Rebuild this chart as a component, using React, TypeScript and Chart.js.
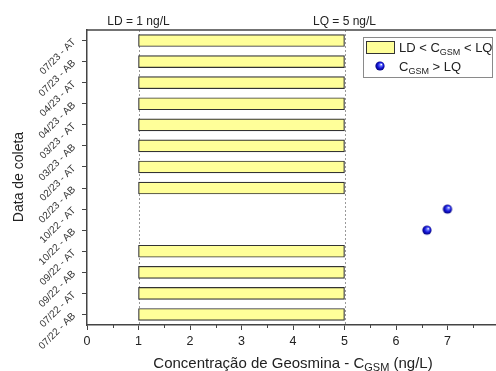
import React, { useEffect, useRef } from "react";
import { Chart, registerables } from "chart.js";

Chart.register(...registerables);

// Sampling campaigns, listed top to bottom as shown on the axis
const categories = [
  "07/23 - AT",
  "07/23 - AB",
  "04/23 - AT",
  "04/23 - AB",
  "03/23 - AT",
  "03/23 - AB",
  "02/23 - AT",
  "02/23 - AB",
  "10/22 - AT",
  "10/22 - AB",
  "09/22 - AT",
  "09/22 - AB",
  "07/22 - AT",
  "07/22 - AB",
];

// Detection and quantification limits (ng/L)
const LD = 1;
const LQ = 5;

// Samples between LD and LQ: range bar from LD to LQ (null = not in this class)
const rangeLow = [1, 1, 1, 1, 1, 1, 1, 1, null, null, 1, 1, 1, 1];
const rangeHigh = [5, 5, 5, 5, 5, 5, 5, 5, null, null, 5, 5, 5, 5];

// Samples quantified above LQ (ng/L)
const aboveLQ = [null, null, null, null, null, null, null, null, 7.0, 6.6, null, null, null, null];

const xTicks = [0, 1, 2, 3, 4, 5, 6, 7, 8];

const FONT = '"Liberation Sans", Arial, Helvetica, sans-serif';
const AXIS = "#444";
const TEXT = "#222";
const BAR_FILL = "#FFFF99";

function makeSphere(r: number): HTMLCanvasElement {
  const c = document.createElement("canvas");
  const s = Math.ceil(r * 2 + 2);
  c.width = s;
  c.height = s;
  const g = c.getContext("2d")!;
  const cx = s / 2;
  const cy = s / 2;
  const grad = g.createRadialGradient(cx + r * 0.3, cy - r * 0.35, r * 0.05, cx, cy, r);
  grad.addColorStop(0, "#ffffff");
  grad.addColorStop(0.22, "#6a78ff");
  grad.addColorStop(0.6, "#1515d8");
  grad.addColorStop(1, "#00007a");
  g.fillStyle = grad;
  g.beginPath();
  g.arc(cx, cy, r, 0, Math.PI * 2);
  g.fill();
  return c;
}

// Draws a run of [text, size, baseline offset] pieces, left to right
function drawRuns(
  ctx: CanvasRenderingContext2D,
  runs: [string, number, number][],
  x: number,
  y: number
) {
  let cx = x;
  for (const [t, size, dy] of runs) {
    ctx.font = `${size}px ${FONT}`;
    ctx.fillText(t, cx, y + dy);
    cx += ctx.measureText(t).width;
  }
}

function runsWidth(ctx: CanvasRenderingContext2D, runs: [string, number, number][]) {
  let w = 0;
  for (const [t, size] of runs) {
    ctx.font = `${size}px ${FONT}`;
    w += ctx.measureText(t).width;
  }
  return w;
}

export default function App() {
  const ref = useRef<HTMLCanvasElement | null>(null);

  useEffect(() => {
    if (!ref.current) return;
    const sphere = makeSphere(4.6);

    const decorations = {
      id: "decorations",
      beforeDatasetsDraw(chart: any) {
        const { ctx, chartArea } = chart;
        const xs = chart.scales.x;
        ctx.save();
        ctx.strokeStyle = "#9a9a9a";
        ctx.lineWidth = 1;
        ctx.setLineDash([2, 2]);
        for (const v of [LD, LQ]) {
          const px = Math.round(xs.getPixelForValue(v)) + 0.5;
          ctx.beginPath();
          ctx.moveTo(px, chartArea.top);
          ctx.lineTo(px, chartArea.bottom);
          ctx.stroke();
        }
        ctx.restore();
      },
      afterDraw(chart: any) {
        const { ctx, chartArea } = chart;
        const xs = chart.scales.x;
        ctx.save();

        // top frame line
        ctx.strokeStyle = AXIS;
        ctx.lineWidth = 1.5;
        ctx.beginPath();
        ctx.moveTo(chartArea.left, chartArea.top);
        ctx.lineTo(chartArea.right, chartArea.top);
        ctx.stroke();

        // minor ticks on x axis
        ctx.lineWidth = 1;
        for (let v = 0.5; v < 8; v += 1) {
          const px = Math.round(xs.getPixelForValue(v)) + 0.5;
          ctx.beginPath();
          ctx.moveTo(px, chartArea.bottom);
          ctx.lineTo(px, chartArea.bottom + 3);
          ctx.stroke();
        }

        ctx.fillStyle = TEXT;
        ctx.textBaseline = "alphabetic";

        // limit labels above the plot
        ctx.font = `12px ${FONT}`;
        ctx.textAlign = "center";
        ctx.fillText(`LD = ${LD} ng/L`, xs.getPixelForValue(LD), 25);
        ctx.fillText(`LQ = ${LQ} ng/L`, xs.getPixelForValue(LQ), 25);

        // y axis title
        ctx.save();
        ctx.translate(19, 177);
        ctx.rotate(-Math.PI / 2);
        ctx.font = `14px ${FONT}`;
        ctx.textAlign = "center";
        ctx.textBaseline = "middle";
        ctx.fillText("Data de coleta", 0, 0);
        ctx.restore();

        // x axis title with subscript
        ctx.textAlign = "left";
        const xTitle: [string, number, number][] = [
          ["Concentração de Geosmina - C", 15, 0],
          ["GSM", 11, 3],
          [" (ng/L)", 15, 0],
        ];
        const tw = runsWidth(ctx, xTitle);
        drawRuns(ctx, xTitle, 293 - tw / 2, 368);

        // legend
        const lx = 363.5;
        const ly = 37.5;
        ctx.fillStyle = "#ffffff";
        ctx.fillRect(lx, ly, 129, 40);
        ctx.strokeStyle = "#8a8a8a";
        ctx.lineWidth = 1;
        ctx.strokeRect(lx, ly, 129, 40);

        ctx.fillStyle = BAR_FILL;
        ctx.fillRect(366.5, 41.5, 28, 12);
        ctx.strokeStyle = "#333";
        ctx.strokeRect(366.5, 41.5, 28, 12);

        ctx.drawImage(sphere, 380 - sphere.width / 2, 66 - sphere.height / 2);

        ctx.fillStyle = TEXT;
        drawRuns(
          ctx,
          [
            ["LD < C", 13, 0],
            ["GSM", 9, 3],
            [" < LQ", 13, 0],
          ],
          399,
          52
        );
        drawRuns(
          ctx,
          [
            ["C", 13, 0],
            ["GSM", 9, 3],
            [" > LQ", 13, 0],
          ],
          399,
          71
        );

        ctx.restore();
      },
    };

    const chart = new Chart(ref.current, {
      type: "bar",
      data: {
        labels: categories,
        datasets: [
          {
            type: "bar",
            label: "LD < CGSM < LQ",
            data: rangeLow.map((lo, i) =>
              lo === null || rangeHigh[i] === null ? null : [lo, rangeHigh[i] as number]
            ) as any,
            backgroundColor: BAR_FILL,
            borderColor: "#333333",
            borderWidth: 1.2,
            borderSkipped: false,
            barThickness: 12,
          },
          {
            type: "line",
            label: "CGSM > LQ",
            data: aboveLQ as any,
            showLine: false,
            pointStyle: sphere as any,
            pointRadius: 5,
            pointHoverRadius: 5,
          } as any,
        ],
      },
      options: {
        indexAxis: "y",
        responsive: false,
        animation: false,
        events: [],
        layout: { padding: { top: 30, right: 21, left: 0, bottom: 0 } },
        plugins: {
          legend: { display: false },
          tooltip: { enabled: false },
        },
        scales: {
          x: {
            type: "linear",
            min: 0,
            max: 8,
            afterFit(scale: any) {
              scale.height = 46;
            },
            afterBuildTicks(scale: any) {
              scale.ticks = xTicks.map((v) => ({ value: v }));
            },
            ticks: {
              font: { family: FONT, size: 12.5 },
              color: TEXT,
              padding: 4,
            },
            grid: {
              drawOnChartArea: false,
              drawTicks: true,
              tickLength: 5,
              color: AXIS,
              lineWidth: 1,
            },
            border: { display: true, color: AXIS, width: 1.5 },
          },
          y: {
            type: "category",
            afterFit(scale: any) {
              scale.width = 87;
            },
            ticks: {
              font: { family: FONT, size: 10 },
              color: "#333",
              minRotation: 45,
              maxRotation: 45,
              autoSkip: false,
              padding: 8,
            },
            grid: {
              drawOnChartArea: false,
              drawTicks: true,
              tickLength: 5,
              color: AXIS,
              lineWidth: 1,
              offset: false,
            },
            border: { display: true, color: AXIS, width: 1.5 },
          },
        },
      } as any,
      plugins: [decorations],
    });

    return () => chart.destroy();
  }, []);

  return (
    <div
      style={{
        position: "fixed",
        left: 0,
        top: 0,
        width: 496,
        height: 371,
        overflow: "hidden",
        background: "#ffffff",
      }}
    >
      <canvas ref={ref} width={520} height={371} style={{ display: "block" }} />
    </div>
  );
}
